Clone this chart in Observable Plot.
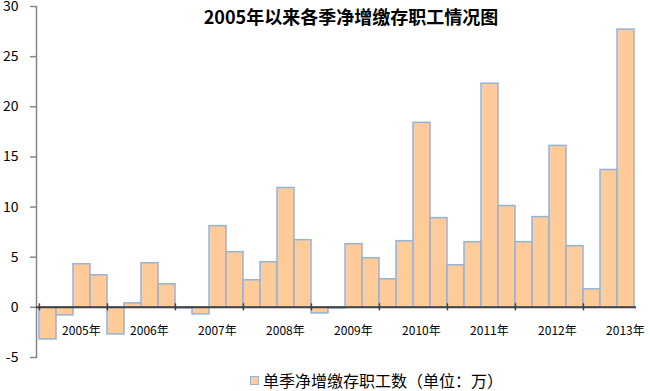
<!DOCTYPE html>
<html>
<head>
<meta charset="utf-8">
<script src="https://cdn.jsdelivr.net/npm/d3@7"></script>
<script src="https://cdn.jsdelivr.net/npm/@observablehq/plot@0.6"></script>
<style>
  html, body { margin: 0; padding: 0; background: #fff; }
  #wrap { position: relative; width: 650px; height: 391px; overflow: hidden; font-family: "Noto Sans CJK SC", "Noto Sans", sans-serif; }
  #title { position: absolute; left: 0; width: 702px; top: 4px; text-align: center; font-size: 18px; font-weight: bold; color: #000; line-height: 24px; }
  #legend { position: absolute; left: 250px; top: 370px; font-size: 16px; color: #000; line-height: 20px; display: flex; align-items: center; }
  #legend .sw { width: 7px; height: 7px; background: #FFCC99; border: 1px solid #95B3D7; margin-right: 4px; }
  #chart { position: absolute; left: 0; top: 0; }
</style>
</head>
<body>
<div id="wrap">
  <div id="chart"></div>
  <div id="title">2005年以来各季净增缴存职工情况图</div>
  <div id="legend"><span class="sw"></span><span>单季净增缴存职工数（单位：万）</span></div>
</div>
<script>
const years = [2005, 2006, 2007, 2008, 2009, 2010, 2011, 2012, 2013];
const quarters = ["Q1", "Q2", "Q3", "Q4"];
const values = [
  -3.2, -0.8, 4.3, 3.2,
  -2.7, 0.4, 4.4, 2.3,
  -0.1, -0.7, 8.1, 5.5,
  2.7, 4.5, 11.9, 6.7,
  -0.6, -0.1, 6.3, 4.9,
  2.8, 6.6, 18.4, 8.9,
  4.2, 6.5, 22.3, 10.1,
  6.5, 9.0, 16.1, 6.1,
  1.8, 13.7, 27.7
];
const yTicks = [-5, 0, 5, 10, 15, 20, 25, 30];
const yearLabels = years.map(y => y + "年");

const keys = [];
years.forEach(y => quarters.forEach(q => keys.push(y + q)));
const data = values.map((v, i) => ({key: keys[i], value: v}));
const domainKeys = keys.slice(0, values.length);

const width = 650, height = 391;
const marginLeft = 36, marginRight = 14, marginTop = 6, marginBottom = 34;
const bw = (width - marginLeft - marginRight) / domainKeys.length;

const q1Keys = years.map(y => y + "Q1");
const labelData = years.map((y, i) => ({key: y + "Q3", label: yearLabels[i]}));

const chart = Plot.plot({
  width, height, marginLeft, marginRight, marginTop, marginBottom,
  style: {fontFamily: "'Noto Sans CJK SC', 'Noto Sans', sans-serif", background: "transparent"},
  x: {type: "band", domain: domainKeys, padding: 0, axis: null},
  y: {domain: [-5, 30], axis: null},
  marks: [
    Plot.barY(data, {x: "key", y: "value", fill: "#FFCC99", stroke: "#95B3D7", strokeWidth: 1.5}),
    Plot.frame({anchor: "left", stroke: "#868686", strokeWidth: 1.5}),
    Plot.axisY({ticks: yTicks, label: null, tickSize: 6, tickPadding: 12, tickFormat: d => String(d), fontSize: 14, stroke: "#868686", strokeWidth: 1.5, color: "#000"}),
    Plot.ruleY([0], {stroke: "#404040", strokeWidth: 2}),
    Plot.ruleX(q1Keys, {x: d => d, y1: -0.35, y2: 0.35, dx: -bw / 2, stroke: "#404040", strokeWidth: 1.5}),
    Plot.text(labelData, {x: "key", y: -2.35, text: "label", dx: -bw / 2 + 8, fontSize: 12, fill: "#000"})
  ]
});
document.getElementById("chart").appendChild(chart);
</script>
</body>
</html>
